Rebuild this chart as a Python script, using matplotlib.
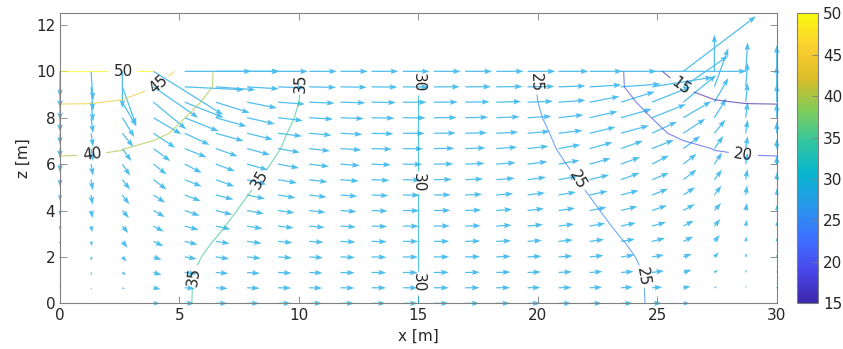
import numpy as np
import matplotlib
matplotlib.use('Agg')
import matplotlib.pyplot as plt
from matplotlib.colors import LinearSegmentedColormap, Normalize
import matplotlib.cm as cm

# grid nodes [m]
x_nodes = [0.0, 1.30, 2.61, 3.91, 5.22, 6.52, 7.83, 9.13, 10.43, 11.74, 13.04, 14.35,
           15.65, 16.96, 18.26, 19.57, 20.87, 22.17, 23.48, 24.78, 26.09, 27.39, 28.70, 30.0]
z_nodes = [0.0, 0.67, 1.33, 2.0, 2.67, 3.33, 4.0, 4.67, 5.33, 6.0, 6.67, 7.33, 8.0, 8.67, 9.33, 10.0]

# hydraulic head, one row per z node (bottom to top)
head = [
    [35.9, 35.88, 35.8, 35.58, 35.13, 34.56, 33.92, 33.26, 32.58, 31.88, 31.15, 30.39,
     29.61, 28.85, 28.12, 27.42, 26.74, 26.08, 25.44, 24.87, 24.42, 24.2, 24.12, 24.1],
    [35.95, 35.92, 35.83, 35.6, 35.14, 34.57, 33.93, 33.27, 32.58, 31.88, 31.15, 30.39,
     29.61, 28.85, 28.12, 27.42, 26.73, 26.07, 25.43, 24.86, 24.4, 24.17, 24.08, 24.05],
    [36.05, 36.0, 35.9, 35.65, 35.2, 34.53, 33.9, 33.25, 32.57, 31.87, 31.14, 30.39,
     29.61, 28.86, 28.13, 27.43, 26.75, 26.1, 25.47, 24.8, 24.35, 24.1, 24.0, 23.95],
    [36.25, 36.2, 36.08, 35.8, 35.36, 34.69, 33.97, 33.25, 32.53, 31.81, 31.08, 30.36,
     29.64, 28.92, 28.19, 27.47, 26.75, 26.03, 25.31, 24.64, 24.2, 23.92, 23.8, 23.75],
    [36.55, 36.5, 36.38, 36.08, 35.6, 34.93, 34.17, 33.41, 32.65, 31.89, 31.13, 30.38,
     29.62, 28.87, 28.11, 27.35, 26.59, 25.83, 25.07, 24.4, 23.92, 23.62, 23.5, 23.45],
    [36.95, 36.9, 36.75, 36.42, 35.9, 35.25, 34.43, 33.62, 32.82, 32.01, 31.21, 30.4,
     29.6, 28.79, 27.99, 27.18, 26.38, 25.57, 24.75, 24.1, 23.58, 23.25, 23.1, 23.05],
    [37.45, 37.4, 37.22, 36.85, 36.3, 35.6, 34.71, 33.85, 33.0, 32.14, 31.29, 30.43,
     29.57, 28.71, 27.86, 27.0, 26.15, 25.29, 24.4, 23.7, 23.15, 22.78, 22.6, 22.55],
    [38.0, 37.95, 37.75, 37.35, 36.75, 36.0, 35.03, 34.12, 33.2, 32.29, 31.37, 30.46,
     29.54, 28.63, 27.71, 26.8, 25.88, 24.97, 24.0, 23.25, 22.65, 22.25, 22.05, 22.0],
    [38.65, 38.6, 38.4, 37.95, 37.3, 36.4, 35.4, 34.41, 33.43, 32.45, 31.47, 30.49,
     29.51, 28.53, 27.55, 26.57, 25.59, 24.6, 23.6, 22.7, 22.05, 21.6, 21.4, 21.35],
    [39.4, 39.35, 39.2, 38.7, 37.9, 36.95, 35.85, 34.72, 33.67, 32.62, 31.57, 30.52,
     29.48, 28.43, 27.38, 26.33, 25.28, 24.15, 23.05, 22.1, 21.3, 20.8, 20.65, 20.6],
    [40.55, 40.45, 40.1, 39.13, 38.12, 37.11, 36.1, 35.09, 33.97, 32.84, 31.7, 30.57,
     29.43, 28.3, 27.16, 26.03, 24.91, 23.9, 22.89, 21.88, 20.87, 19.9, 19.55, 19.45],
    [42.05, 41.95, 41.5, 40.8, 39.21, 37.93, 36.64, 35.35, 34.14, 32.96, 31.78, 30.59,
     29.41, 28.22, 27.04, 25.86, 24.65, 23.36, 22.07, 20.79, 19.2, 18.5, 18.05, 17.95],
    [43.6, 43.5, 42.9, 41.6, 40.03, 38.58, 37.14, 35.7, 34.36, 33.11, 31.87, 30.62,
     29.38, 28.13, 26.89, 25.64, 24.3, 22.86, 21.42, 19.97, 18.4, 17.1, 16.5, 16.4],
    [45.2, 45.15, 44.75, 42.48, 40.83, 39.2, 37.59, 35.99, 34.5, 33.22, 31.93, 30.64,
     29.36, 28.07, 26.78, 25.5, 24.01, 22.41, 20.8, 19.17, 17.52, 15.25, 14.85, 14.8],
    [47.4, 47.0, 46.3, 45.2, 42.4, 39.71, 37.95, 36.18, 34.57, 33.26, 31.96, 30.65,
     29.35, 28.04, 26.74, 25.43, 23.82, 22.05, 20.29, 17.6, 14.8, 13.7, 13.0, 12.6],
    [50.05, 50.05, 50.05, 50.05, 42.5, 39.76, 37.98, 36.19, 34.57, 33.26, 31.96, 30.65,
     29.35, 28.04, 26.74, 25.43, 23.81, 22.02, 20.24, 17.5, 9.95, 9.95, 9.95, 9.95],
]

# flux components (x and z)
qx = [
    [0, 0.5, 2, 6.7, 10, 12, 12.5, 13, 13, 14, 14.5, 15, 15, 14.5, 14, 13, 13, 12.5, 12, 10, 6.7, 2, 0.5, 0],
    [0, 0.5, 2.7, 7.3, 10.3, 12, 12.5, 13, 13, 14, 14.5, 15, 15, 14.5, 14, 13, 13, 12.5, 12, 10.3, 7.3, 2.7, 0.5, 0],
    [0, 0.7, 3.7, 8.3, 12, 12.7, 13, 13.5, 13.5, 14.3, 14.7, 15, 15, 14.7, 14.3, 13.5, 13.5, 13, 12.7, 12, 8.3, 3.7, 0.7, 0],
    [0, 0.8, 4.3, 8.3, 12, 13.5, 14, 14, 14, 14.6, 15, 15.3, 15.3, 15, 14.6, 14, 14, 14, 13.5, 12, 8.3, 4.3, 0.8, 0],
    [0, 1, 5.3, 10, 13, 14, 14.5, 14.5, 14.5, 15, 15.3, 15.5, 15.5, 15.3, 15, 14.5, 14.5, 14.5, 14, 13, 10, 5.3, 1, 0],
    [0, 1.2, 6, 10.5, 14, 15, 15.5, 15.5, 15.5, 15.5, 15.7, 16, 16, 15.7, 15.5, 15.5, 15.5, 15.5, 15, 14, 10.5, 6, 1.2, 0],
    [0, 1.5, 6.7, 11.5, 15, 16.5, 17, 16.5, 16.5, 16, 16.2, 16.5, 16.5, 16.2, 16, 16.5, 16.5, 17, 16.5, 15, 11.5, 6.7, 1.5, 0],
    [0, 1.5, 7, 11.7, 16, 17.7, 18, 17.5, 17.5, 17, 17, 17, 17, 17, 17, 17.5, 17.5, 18, 17.7, 16, 11.7, 7, 1.5, 0],
    [0, 1.8, 7.7, 13.3, 17, 18.7, 19.5, 19, 18.5, 18.5, 18, 18, 18, 18, 18.5, 18.5, 19, 19.5, 18.7, 17, 13.3, 7.7, 1.8, 0],
    [0, 2, 7.7, 13.3, 17, 19.3, 21, 21, 20, 19.5, 19.5, 19.5, 19.5, 19.5, 19.5, 20, 21, 21, 19.3, 17, 13.3, 7.7, 2, 0],
    [0, 2, 9, 17, 22, 22, 23, 22, 21, 21, 20.5, 20.5, 20.5, 20.5, 21, 21, 22, 23, 22, 22, 17, 9, 2, 0],
    [0, 2, 11, 22, 25, 28, 26, 24, 22.5, 22, 22, 22, 22, 22, 22, 22.5, 24, 26, 28, 25, 22, 11, 2, 0],
    [0, 2, 12, 28, 34, 31, 28, 25, 24, 23.5, 23, 23, 23, 23, 23.5, 24, 25, 28, 31, 34, 28, 12, 2, 0],
    [0, 2, 14, 33, 39, 34, 30, 27, 25.5, 25, 24.5, 24, 24, 24.5, 25, 25.5, 27, 30, 34, 39, 33, 14, 2, 0],
    [0, 2, 14, 45, 60, 40, 32, 27, 27, 26.5, 26, 26, 26, 26, 26.5, 27, 27, 32, 40, 61, 45, 14, 2, 0],
    [0, 2, 0, 70, 95, 36, 33, 30, 28, 27.5, 27, 27, 27, 27, 27.5, 28, 30, 33, 36, 95, 73, 0, 2, 0],
]
qz = [
    [-0.5, 0, 0, 0, 0, 0, 0, 0, 0, 0, 0, 0, 0, 0, 0, 0, 0, 0, 0, 0, 0, 0, 0, 0.5],
    [-1, -2, -1.3, -1.3, -0.7, -0.7, -0.5, -0.3, -0.3, -0.2, -0.1, 0, 0, 0.1, 0.2, 0.3, 0.3, 0.5, 0.7, 0.7, 1.3, 1.3, 2, 1],
    [-1.5, -3, -2.7, -2.7, -1.7, -1, -1, -0.7, -0.5, -0.4, -0.2, -0.1, 0.1, 0.2, 0.4, 0.5, 0.7, 1, 1, 1.7, 2.7, 2.7, 3, 1.5],
    [-2.5, -4, -4.7, -3, -2, -2, -1.5, -1, -0.8, -0.6, -0.3, -0.1, 0.1, 0.3, 0.6, 0.8, 1, 1.5, 2, 2, 3, 4.7, 4, 2.5],
    [-3.5, -5, -6.7, -5, -3.3, -2.3, -2, -1.5, -1, -0.7, -0.4, -0.1, 0.1, 0.4, 0.7, 1, 1.5, 2, 2.3, 3.3, 5, 6.7, 5, 3.5],
    [-4.5, -6.5, -7.3, -5.7, -4, -3.3, -2.7, -2, -1.5, -1, -0.5, -0.2, 0.2, 0.5, 1, 1.5, 2, 2.7, 3.3, 4, 5.7, 7.3, 6.5, 4.5],
    [-5.5, -8, -7.7, -6.7, -5.3, -4.3, -3.3, -2.5, -2, -1.2, -0.6, -0.2, 0.2, 0.6, 1.2, 2, 2.5, 3.3, 4.3, 5.3, 6.7, 7.7, 8, 5.5],
    [-6.5, -10, -9.7, -8, -6.3, -4.7, -4, -3, -2.3, -1.4, -0.7, -0.2, 0.2, 0.7, 1.4, 2.3, 3, 4, 4.7, 6.3, 8, 9.7, 10, 6.5],
    [-7.5, -11, -10.3, -10.3, -7, -7, -5, -3.5, -2.5, -1.5, -0.8, -0.3, 0.3, 0.8, 1.5, 2.5, 3.5, 5, 7, 7, 10.3, 10.3, 11, 7.5],
    [-9, -12, -12, -10.7, -9, -7.3, -6, -4, -2.5, -1.5, -0.8, -0.3, 0.3, 0.8, 1.5, 2.5, 4, 6, 7.3, 9, 10.7, 12, 12, 9],
    [-10, -13, -13, -13, -9, -8, -6.5, -4, -2.5, -1.5, -0.7, -0.3, 0.3, 0.7, 1.5, 2.5, 4, 6.5, 8, 9, 13, 13, 13, 10],
    [-12, -14, -14, -15, -12, -8, -6.5, -3, -2, -1.2, -0.6, -0.2, 0.2, 0.6, 1.2, 2, 3, 6.5, 8, 12, 15, 14, 14, 12],
    [-15, -16, -20, -17, -14, -9, -6.5, -3, -1.5, -1, -0.5, -0.2, 0.2, 0.5, 1, 1.5, 3, 6.5, 9, 14, 17, 20, 16, 15],
    [-19, -20, -25, -28, -16, -11, -6, -2, -1, -0.7, -0.4, -0.1, 0.1, 0.4, 0.7, 1, 2, 6, 11, 16, 28, 25, 20, 19],
    [-22, -25, -40, -32, -3, -3, -2, -1, -0.5, -0.4, -0.2, -0.1, 0.1, 0.2, 0.4, 0.5, 1, 2, 3, 10, 32, 40, 25, 22],
    [-27, -30, -38, -45, 0, 0, 0, 0, 0, 0, 0, 0, 0, 0, 0, 0, 0, 0, 0, 0, 57, 38, 30, 27],
]

levels = [15, 20, 25, 30, 35, 40, 45, 50]
label_pos = [(2.64, 10.0), (4.1, 9.43), (1.33, 6.4), (10.05, 9.5), (8.37, 5.32), (5.61, 1.15),
             (15.0, 9.5), (15.0, 5.2), (15.0, 0.87), (19.9, 9.5), (21.5, 5.25), (24.28, 1.15),
             (28.6, 6.43), (25.9, 9.28)]

# parula-like colormap
parula = LinearSegmentedColormap.from_list('parula', [
    (0.2422, 0.1504, 0.6603), (0.2803, 0.2782, 0.9221), (0.2440, 0.4358, 0.9988),
    (0.1540, 0.5902, 0.9218), (0.0297, 0.7082, 0.8163), (0.1938, 0.7758, 0.6251),
    (0.5044, 0.7993, 0.3480), (0.8634, 0.7406, 0.1596), (0.9892, 0.8136, 0.1885),
    (0.9763, 0.9831, 0.0538)])
norm = Normalize(15, 50)
dark = '#262626'
edge = '#808080'

fig = plt.figure(figsize=(8.43, 3.49), dpi=100)
ax = fig.add_axes([0.0712, 0.1309, 0.8502, 0.8309])

X, Z = np.meshgrid(x_nodes, z_nodes)
cs = ax.contour(X, Z, np.array(head), levels=levels, cmap=parula, norm=norm,
                linewidths=0.8, alpha=0.7)
texts = ax.clabel(cs, fmt='%d', fontsize=11, inline=True, manual=label_pos, colors=dark)
for t in texts:
    t.set_alpha(1)

ax.quiver(X, Z, np.array(qx), np.array(qz), angles='xy', scale_units='xy', scale=24,
          color=(0.301, 0.745, 0.933), width=0.0017, headwidth=4.5, headlength=6.5,
          headaxislength=5.5, clip_on=False)

ax.set_xlim(0, 30)
ax.set_ylim(0, 12.5)
ax.set_xticks(range(0, 31, 5))
ax.set_yticks(range(0, 13, 2))
ax.tick_params(direction='in', top=True, right=True, length=5, width=0.6,
               color=edge, labelcolor=dark, labelsize=11)
for s in ax.spines.values():
    s.set_color(edge)
    s.set_linewidth(0.8)
ax.set_xlabel('x [m]', fontsize=11, color=dark)
ax.set_ylabel('z [m]', fontsize=11, color=dark)

cax = fig.add_axes([0.9454, 0.1309, 0.0249, 0.8309])
sm = cm.ScalarMappable(norm=norm, cmap=parula)
cb = fig.colorbar(sm, cax=cax, ticks=levels)
cb.ax.tick_params(direction='in', length=4, width=0.6, color=edge, labelcolor=dark, labelsize=11)
cb.outline.set_edgecolor(edge)
cb.outline.set_linewidth(0.8)

fig.savefig('out.png', dpi=100)
